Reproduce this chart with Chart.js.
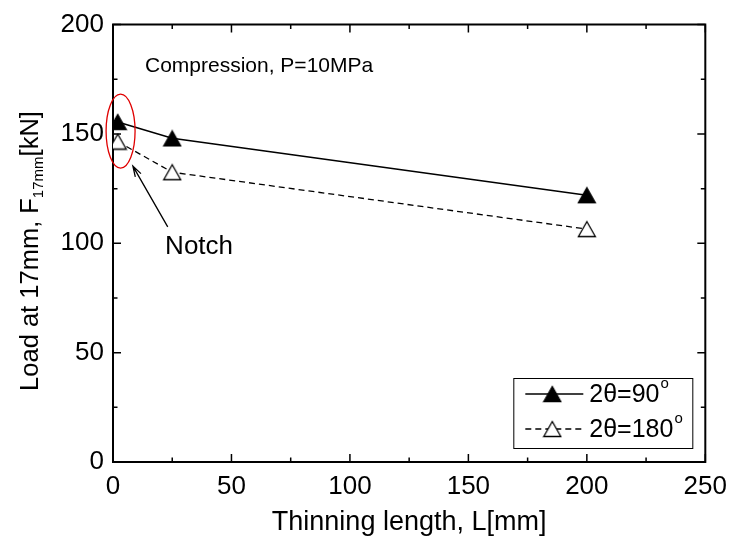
<!DOCTYPE html>
<html>
<head>
<meta charset="utf-8">
<script src="https://cdn.jsdelivr.net/npm/chart.js@4.4.1/dist/chart.umd.min.js"></script>
<style>
  html, body { margin: 0; padding: 0; background: #fff; }
</style>
</head>
<body>
<canvas id="chart" width="736" height="549"></canvas>
<script>
"use strict";

// values
const thinningLength = [2, 25, 200];
const load90 = [155.5, 148, 122];
const load180 = [146.5, 132.5, 106.5];
const seriesNames = ['2θ=90', '2θ=180'];
const xTicks = [0, 50, 100, 150, 200, 250];
const yTicks = [0, 50, 100, 150, 200];
const minorStep = 25;

const FONT = '"Liberation Sans", Arial, sans-serif';

// Origin-like triangle marker, centred on its bounding box
function makeTriangle(filled) {
    const c = document.createElement('canvas');
    c.width = 20;
    c.height = 18;
    const g = c.getContext('2d');
    g.beginPath();
    g.moveTo(10, 1.5);
    g.lineTo(18.5, 16.5);
    g.lineTo(1.5, 16.5);
    g.closePath();
    g.fillStyle = filled ? '#000' : '#fff';
    g.fill();
    g.lineWidth = 1.3;
    g.strokeStyle = '#000';
    g.stroke();
    return c;
}
const triFilled = makeTriangle(true);
const triOpen = makeTriangle(false);

function toPoints(xs, ys) {
    return xs.map((x, i) => ({ x: x, y: ys[i] }));
}

const decorations = {
    id: 'decorations',
    afterDraw(chart) {
        const ctx = chart.ctx;
        const area = chart.chartArea;
        const xs = chart.scales.x;
        const ys = chart.scales.y;

        ctx.save();
        ctx.strokeStyle = '#000';

        // top / right frame
        ctx.lineWidth = 2;
        ctx.beginPath();
        ctx.moveTo(area.left - 1, area.top);
        ctx.lineTo(area.right, area.top);
        ctx.lineTo(area.right, area.bottom + 1);
        ctx.stroke();

        // inward ticks on all four sides
        ctx.lineWidth = 1.5;
        ctx.beginPath();
        for (let v = xs.min; v <= xs.max; v += minorStep) {
            const px = xs.getPixelForValue(v);
            const len = v % 50 === 0 ? 8 : 4.5;
            ctx.moveTo(px, area.bottom);
            ctx.lineTo(px, area.bottom - len);
            ctx.moveTo(px, area.top);
            ctx.lineTo(px, area.top + len);
        }
        for (let v = ys.min; v <= ys.max; v += minorStep) {
            const py = ys.getPixelForValue(v);
            const len = v % 50 === 0 ? 8 : 4.5;
            ctx.moveTo(area.left, py);
            ctx.lineTo(area.left + len, py);
            ctx.moveTo(area.right, py);
            ctx.lineTo(area.right - len, py);
        }
        ctx.stroke();

        // axis titles
        ctx.fillStyle = '#000';
        ctx.font = '27px ' + FONT;
        ctx.textAlign = 'center';
        ctx.textBaseline = 'middle';
        ctx.fillText('Thinning length, L[mm]', (area.left + area.right) / 2, 523);

        ctx.save();
        ctx.translate(29, 251);
        ctx.rotate(-Math.PI / 2);
        ctx.textAlign = 'left';
        ctx.textBaseline = 'alphabetic';
        const mainFont = '25.5px ' + FONT;
        const subFont = '15px ' + FONT;
        ctx.font = mainFont;
        const w1 = ctx.measureText('Load at 17mm, F').width;
        const w3 = ctx.measureText('[kN]').width;
        ctx.font = subFont;
        const w2 = ctx.measureText('17mm').width;
        let cx = -(w1 + w2 + w3) / 2;
        ctx.font = mainFont;
        ctx.fillText('Load at 17mm, F', cx, 9);
        cx += w1;
        ctx.font = subFont;
        ctx.fillText('17mm', cx, 14);
        cx += w2;
        ctx.font = mainFont;
        ctx.fillText('[kN]', cx, 9);
        ctx.restore();

        // annotations
        ctx.font = '21px ' + FONT;
        ctx.textAlign = 'left';
        ctx.textBaseline = 'middle';
        ctx.fillText('Compression, P=10MPa', xs.getPixelForValue(13.5), ys.getPixelForValue(181));

        ctx.font = '26px ' + FONT;
        ctx.fillText('Notch', xs.getPixelForValue(22), ys.getPixelForValue(98.4));

        ctx.strokeStyle = '#e00000';
        ctx.lineWidth = 1.3;
        ctx.beginPath();
        ctx.ellipse(xs.getPixelForValue(3.2), ys.getPixelForValue(151.3), 14.5, 37, 0, 0, Math.PI * 2);
        ctx.stroke();

        // arrow pointing at the notch
        const ax0 = xs.getPixelForValue(23.1), ay0 = ys.getPixelForValue(107.5);
        const ax1 = xs.getPixelForValue(8.4), ay1 = ys.getPixelForValue(135.3);
        const ang = Math.atan2(ay1 - ay0, ax1 - ax0);
        ctx.strokeStyle = '#000';
        ctx.lineWidth = 1.3;
        ctx.beginPath();
        ctx.moveTo(ax0, ay0);
        ctx.lineTo(ax1, ay1);
        ctx.moveTo(ax1 - 11 * Math.cos(ang - 0.3), ay1 - 11 * Math.sin(ang - 0.3));
        ctx.lineTo(ax1, ay1);
        ctx.lineTo(ax1 - 11 * Math.cos(ang + 0.3), ay1 - 11 * Math.sin(ang + 0.3));
        ctx.stroke();

        // legend box
        const bx = area.right - 192, by = area.bottom - 84, bw = 179, bh = 70;
        ctx.lineWidth = 1;
        ctx.strokeRect(bx + 0.5, by + 0.5, bw, bh);
        const rows = [by + 16, by + 51];
        const markers = [triFilled, triOpen];
        chart.data.datasets.forEach((ds, i) => {
            const ry = rows[i];
            ctx.save();
            ctx.lineWidth = ds.borderWidth;
            ctx.setLineDash(ds.borderDash || []);
            ctx.beginPath();
            ctx.moveTo(bx + 12, ry);
            ctx.lineTo(bx + 70, ry);
            ctx.stroke();
            ctx.restore();
            ctx.drawImage(markers[i], bx + 39 - 10, ry - 9);
            ctx.font = '25px ' + FONT;
            ctx.textBaseline = 'middle';
            ctx.fillText(ds.label, bx + 76, ry + 1);
            const tw = ctx.measureText(ds.label).width;
            ctx.font = '15px ' + FONT;
            ctx.fillText('o', bx + 77 + tw, ry - 10);
        });

        ctx.restore();
    }
};

new Chart(document.getElementById('chart'), {
    type: 'scatter',
    data: {
        datasets: [
            {
                label: seriesNames[0],
                data: toPoints(thinningLength, load90),
                showLine: true,
                borderColor: '#000',
                borderWidth: 1.5,
                pointStyle: triFilled,
                pointRadius: 9,
                pointHoverRadius: 9
            },
            {
                label: seriesNames[1],
                data: toPoints(thinningLength, load180),
                showLine: true,
                borderColor: '#000',
                borderWidth: 1.3,
                borderDash: [6, 4],
                pointStyle: triOpen,
                pointRadius: 9,
                pointHoverRadius: 9
            }
        ]
    },
    options: {
        responsive: false,
        animation: false,
        layout: { padding: { top: 23, right: 28, left: 0, bottom: 0 } },
        plugins: {
            legend: { display: false },
            tooltip: { enabled: false }
        },
        scales: {
            x: {
                type: 'linear',
                min: 0,
                max: 250,
                afterBuildTicks: (scale) => { scale.ticks = xTicks.map(v => ({ value: v })); },
                afterFit: (scale) => { scale.height = 87; },
                grid: { drawOnChartArea: false, drawTicks: false },
                border: { display: true, color: '#000', width: 2 },
                ticks: {
                    color: '#000',
                    font: { family: FONT, size: 26 },
                    padding: 9,
                    maxRotation: 0,
                    autoSkip: false
                }
            },
            y: {
                type: 'linear',
                min: 0,
                max: 200,
                afterBuildTicks: (scale) => { scale.ticks = yTicks.map(v => ({ value: v })); },
                afterFit: (scale) => { scale.width = 113; },
                grid: { drawOnChartArea: false, drawTicks: false },
                border: { display: true, color: '#000', width: 2 },
                ticks: {
                    color: '#000',
                    font: { family: FONT, size: 26 },
                    padding: 9,
                    autoSkip: false
                }
            }
        }
    },
    plugins: [decorations]
});
</script>
</body>
</html>
